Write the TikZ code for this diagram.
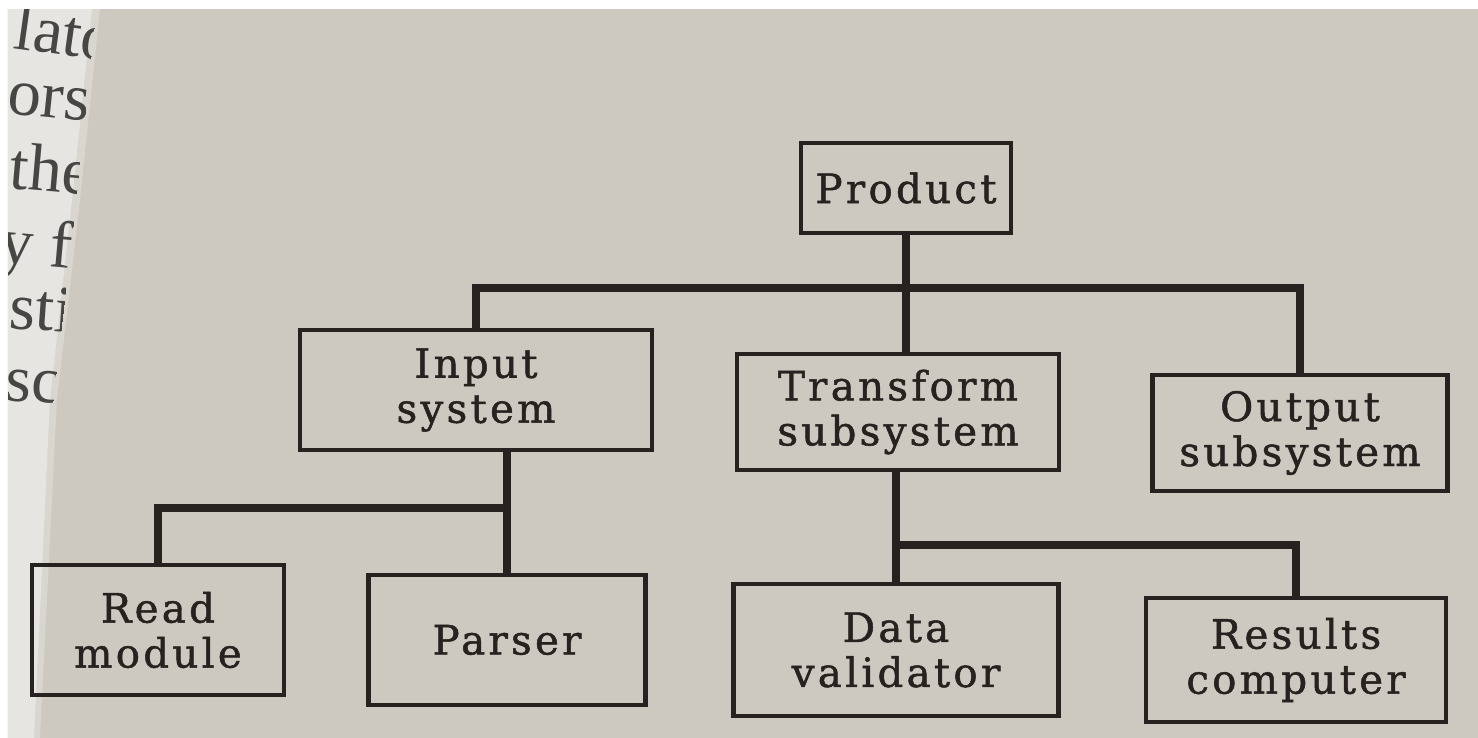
\documentclass[tikz,border=0pt]{standalone}
\usepackage{fontspec}
\newfontfamily\boxfont[LetterSpace=8,FakeBold=1.2]{DejaVu Serif}
\newfontfamily\pagefont{Liberation Serif}
\usetikzlibrary{positioning,calc}

\definecolor{paper}{RGB}{205,200,192}
\definecolor{leaf}{RGB}{230,229,226}
\definecolor{leafedge}{RGB}{217,214,208}
\definecolor{ink}{RGB}{38,34,32}
\definecolor{pageink}{RGB}{72,70,68}

\begin{document}
\begin{tikzpicture}
   [x=0.1mm,y=-0.1mm,
    module/.style={rectangle,draw=ink,line width=1.4pt,inner sep=0pt,align=center,
         text=ink,font=\boxfont\fontsize{11.5}{12.8}\selectfont},
    link/.style={draw=ink,line width=2pt},
    frag/.style={anchor=base west,text=pageink,inner sep=0pt,
         font=\pagefont\fontsize{19}{19}\selectfont}]

\useasboundingbox (0,0) rectangle (1478,738);
\fill [white] (0,0) rectangle (1478,738);
\fill [paper] (8,9) rectangle (1478,738);
\fill [leafedge] (8,9) -- (100,9) -- (80,200) -- (57,400) -- (40,738) -- (8,738) -- cycle;
\fill [leaf] (8,9) -- (92,9) -- (72,200) -- (50,400) -- (34,738) -- (8,738) -- cycle;

% word ends from the facing page
\begin{scope}
\clip (8,9) -- (96,9) -- (76,200) -- (53,400) -- (37,738) -- (8,738) -- cycle;
\node [frag,rotate=-8] (w1) at (12,48) {lator};
\node [frag,rotate=-6] (w2) at (6,113) {ors.};
\node [frag,rotate=-5] (w3) at (8,188) {the};
\node [frag,rotate=-5] (w4) at (-2,262) {y fro};
\node [frag,rotate=-4] (w5) at (8,328) {stin};
\node [frag,rotate=-4] (w6) at (4,400) {scr};
\end{scope}

\node [module,minimum width=2.1cm,minimum height=0.9cm] (prod) at (906,188) {Product};

\node [module,minimum width=3.52cm,minimum height=1.2cm] (inp) at (476,390) {Input\\system};
\node [module,minimum width=3.22cm,minimum height=1.16cm] (trans) at (898,412) {Transform\\subsystem};
\node [module,minimum width=2.95cm,minimum height=1.16cm] (outp) at (1300,433) {Output\\subsystem};

\node [module,minimum width=2.52cm,minimum height=1.3cm] (read) at (158,630) {Read\\module};
\node [module,minimum width=2.77cm,minimum height=1.3cm] (pars) at (507,640) {Parser};
\node [module,minimum width=3.25cm,minimum height=1.32cm] (valid) at (896,650) {Data\\validator};
\node [module,minimum width=3.0cm,minimum height=1.24cm] (res) at (1296,660) {Results\\computer};

\coordinate (bus1) at (0,288);
\coordinate (bus2) at (0,508);
\coordinate (bus3) at (0,545);

\draw [link] (prod.south) -- (prod.south |- trans.north);
\draw [link] (inp.north) |- (outp.north |- bus1) -- (outp.north);

\draw [link] (pars.north |- inp.south) -- (pars.north);
\draw [link] (read.north) |- (pars.north |- bus2);

\draw [link] (valid.north |- trans.south) -- (valid.north);
\draw [link] (valid.north |- bus3) -| (res.north);
\end{tikzpicture}
\end{document}
